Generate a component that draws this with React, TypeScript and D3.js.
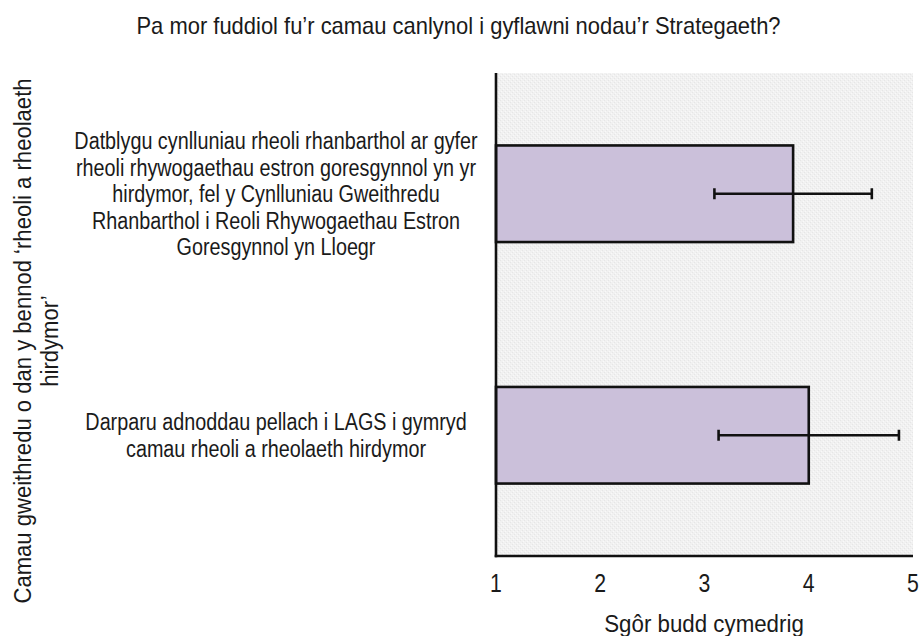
import React from "react";
import * as d3 from "d3";

const titleText = "Pa mor fuddiol fu’r camau canlynol i gyflawni nodau’r Strategaeth?";
const categories = [
  "Datblygu cynlluniau rheoli rhanbarthol ar gyfer rheoli rhywogaethau estron goresgynnol yn yr hirdymor, fel y Cynlluniau Gweithredu Rhanbarthol i Reoli Rhywogaethau Estron Goresgynnol yn Lloegr",
  "Darparu adnoddau pellach i LAGS i gymryd camau rheoli a rheolaeth hirdymor",
];
const categoryLines = [
  [
    "Datblygu cynlluniau rheoli rhanbarthol ar gyfer",
    "rheoli rhywogaethau estron goresgynnol yn yr",
    "hirdymor, fel y Cynlluniau Gweithredu",
    "Rhanbarthol i Reoli Rhywogaethau Estron",
    "Goresgynnol yn Lloegr",
  ],
  ["Darparu adnoddau pellach i LAGS i gymryd", "camau rheoli a rheolaeth hirdymor"],
];
const meanScores = [3.85, 4.0];
const errorMargins = [0.755, 0.865];
const xTicks = [1, 2, 3, 4, 5];
const xTitle = "Sgôr budd cymedrig";
const yTitleLines = ["Camau gweithredu o dan y bennod ‘rheoli a rheolaeth", "hirdymor’"];

const W = 921;
const H = 636;
const plot = { left: 496, right: 913, top: 73, bottom: 556 };
const FONT = "'Liberation Sans', Arial, sans-serif";

function NText(props: {
  x: number;
  y: number;
  size: number;
  sx: number;
  children: React.ReactNode;
  rotate?: boolean;
  dy?: string;
}) {
  const t = props.rotate
    ? `translate(${props.x},${props.y}) rotate(-90) scale(${props.sx},1)`
    : `translate(${props.x},${props.y}) scale(${props.sx},1)`;
  return (
    <g transform={t}>
      <text x={0} y={0} dy={props.dy} textAnchor="middle" fontSize={props.size} fill="#1a1a1a">
        {props.children}
      </text>
    </g>
  );
}

export default function App() {
  React.useEffect(() => {
    document.body.style.margin = "0";
  }, []);

  const x = d3.scaleLinear().domain([1, 5]).range([plot.left, plot.right]);
  const y = d3
    .scaleBand<number>()
    .domain(categories.map((_, i) => i))
    .range([plot.top, plot.bottom])
    .paddingInner(0.6)
    .paddingOuter(0.3);

  const labelCenterX = 276;
  const lineH = 26.5;

  return (
    <svg width={W} height={H} style={{ display: "block", background: "#fff" }} fontFamily={FONT}>
      <defs>
        <pattern id="bgtex" width="4" height="4" patternUnits="userSpaceOnUse">
          <rect width="4" height="4" fill="#f1f1f1" />
          <rect x="0" y="0" width="1" height="1" fill="#e6e6e6" />
          <rect x="2" y="2" width="1" height="1" fill="#e6e6e6" />
          <rect x="1" y="3" width="1" height="1" fill="#f9f9f9" />
          <rect x="3" y="1" width="1" height="1" fill="#f9f9f9" />
        </pattern>
      </defs>
      <NText x={458.5} y={34} size={23} sx={0.955}>
        {titleText}
      </NText>

      <rect
        x={plot.left}
        y={plot.top}
        width={plot.right - plot.left}
        height={plot.bottom - plot.top}
        fill="url(#bgtex)"
      />

      {meanScores.map((v, i) => {
        const y0 = y(i)!;
        const bw = y.bandwidth();
        const cy = y0 + bw / 2;
        const lo = x(v - errorMargins[i]);
        const hi = x(v + errorMargins[i]);
        return (
          <g key={i}>
            <rect
              x={x(1)}
              y={y0}
              width={x(v) - x(1)}
              height={bw}
              fill="#cbc0da"
              stroke="#111"
              strokeWidth={2.6}
            />
            <line x1={lo} x2={hi} y1={cy} y2={cy} stroke="#111" strokeWidth={2.5} />
            <line x1={lo} x2={lo} y1={cy - 5.5} y2={cy + 5.5} stroke="#111" strokeWidth={2.6} />
            <line x1={hi} x2={hi} y1={cy - 5.5} y2={cy + 5.5} stroke="#111" strokeWidth={2.6} />
          </g>
        );
      })}

      <line x1={plot.left} x2={plot.left} y1={plot.top} y2={plot.bottom + 1.3} stroke="#111" strokeWidth={2.6} />
      <line x1={plot.left - 1.3} x2={plot.right} y1={plot.bottom} y2={plot.bottom} stroke="#111" strokeWidth={2.6} />

      {xTicks.map((t) => (
        <NText key={t} x={x(t)} y={592} size={25} sx={0.85}>
          {t}
        </NText>
      ))}
      <NText x={704} y={632} size={24} sx={0.93}>
        {xTitle}
      </NText>

      {categoryLines.map((lines, i) => {
        const cy = y(i)! + y.bandwidth() / 2;
        const startY = cy - ((lines.length - 1) * lineH) / 2;
        return (
          <g key={i}>
            {lines.map((ln, j) => (
              <NText key={j} x={labelCenterX} y={startY + j * lineH} dy="0.36em" size={23} sx={0.86}>
                {ln}
              </NText>
            ))}
          </g>
        );
      })}

      {yTitleLines.map((ln, j) => (
        <NText key={j} x={22 + j * 27} y={341} dy="0.36em" size={24} sx={0.92} rotate>
          {ln}
        </NText>
      ))}
    </svg>
  );
}
